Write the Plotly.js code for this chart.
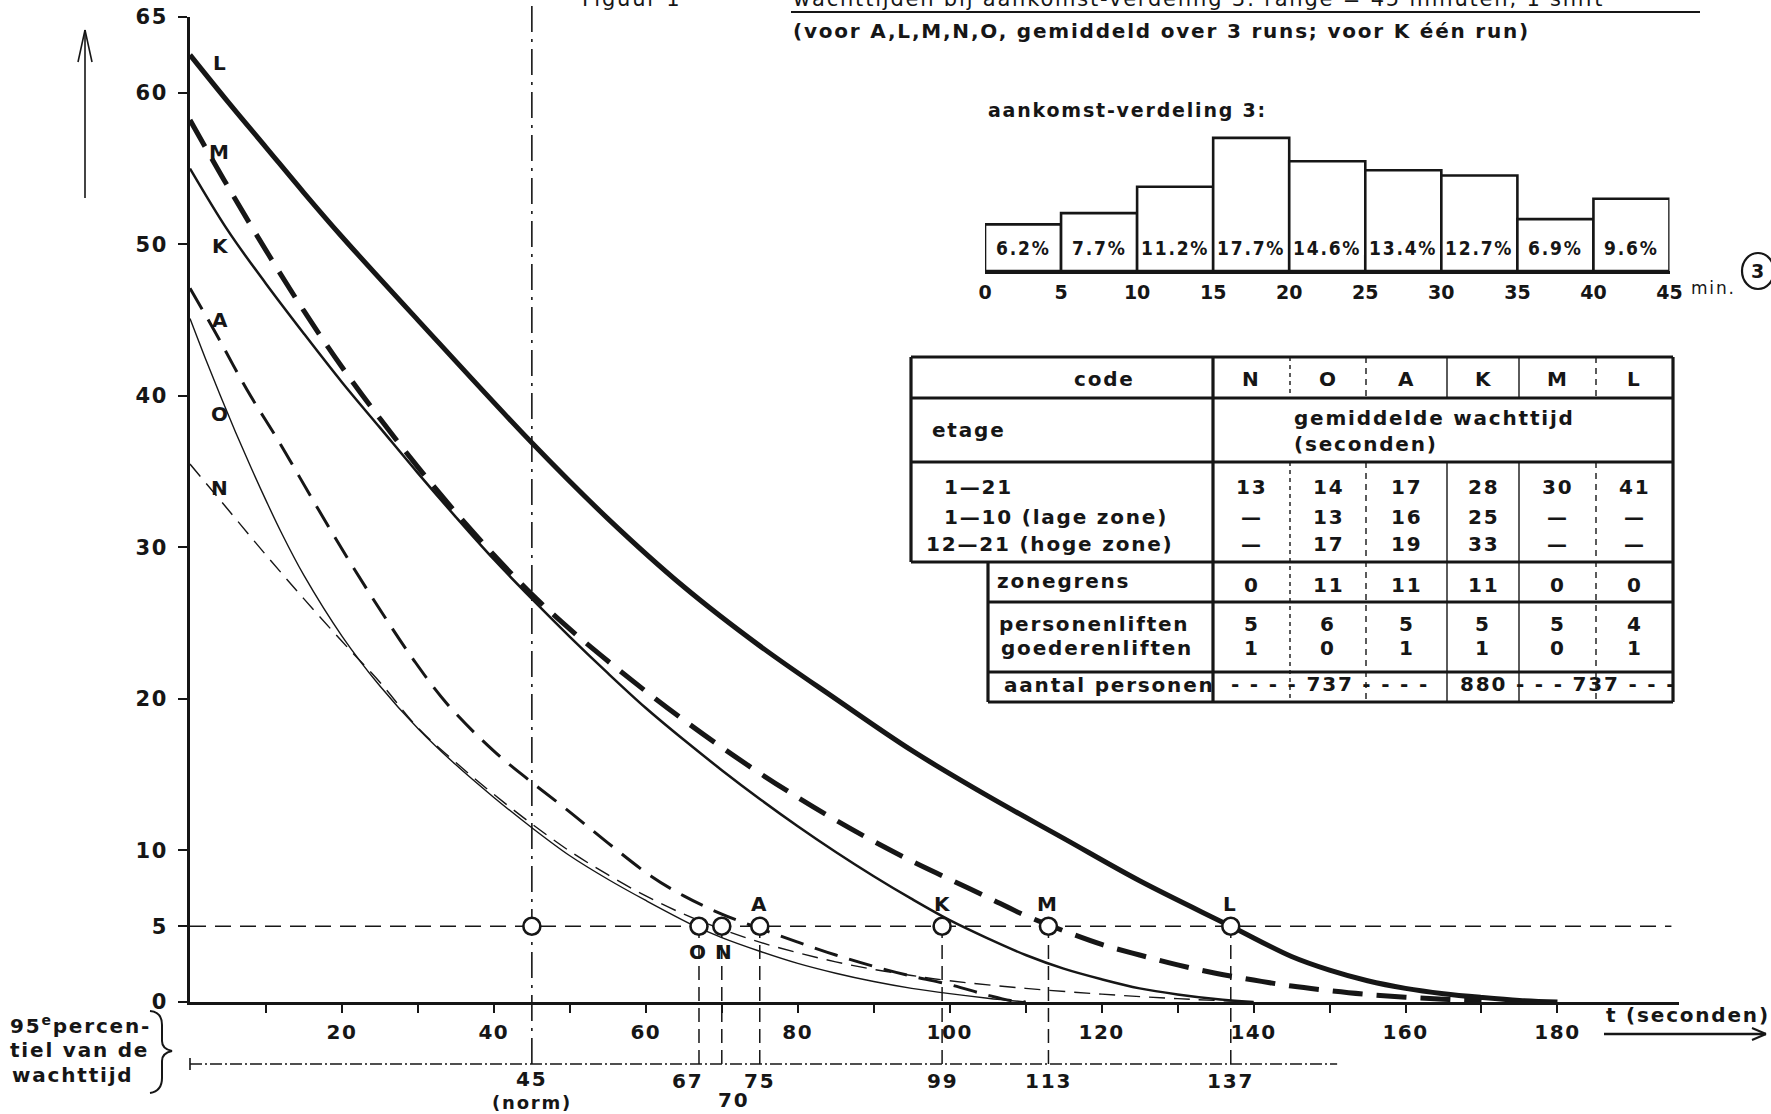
<!DOCTYPE html>
<html><head><meta charset="utf-8">
<script src="https://cdn.plot.ly/plotly-3.0.1.min.js"></script>
<style>
html,body{margin:0;padding:0;background:#fff;}
#chart{width:1771px;height:1114px;}
.annotation-text{letter-spacing:1.8px;}
.xtick text,.ytick text{letter-spacing:1.5px;}
</style></head><body><div id="chart"></div>
<script>
// ---------------- data ----------------
// waiting-time exceedance curves (t in seconds, % of persons still waiting)
const tL = [0, 5, 10, 15, 20, 30, 45, 55, 65, 75, 85, 95, 105, 115, 125, 137, 145, 150, 155, 160, 165, 170, 175, 180];
const wL = [62.5, 59.4, 56.4, 53.4, 50.5, 45.0, 36.9, 31.9, 27.4, 23.5, 20.0, 16.6, 13.6, 10.8, 8.0, 5.0, 3.0, 2.1, 1.4, 0.9, 0.55, 0.3, 0.1, 0];
const tM = [0, 5, 10, 15, 20, 25, 30, 35, 40, 45, 50, 55, 60, 65, 70, 75, 80, 85, 90, 95, 100, 105, 110, 115, 120, 125, 130, 135, 140, 145, 150, 155, 160, 165, 170];
const wM = [58.2, 53.8, 49.6, 45.6, 41.9, 38.5, 35.3, 32.3, 29.5, 26.9, 24.6, 22.5, 20.5, 18.6, 16.8, 15.1, 13.5, 12.0, 10.6, 9.3, 8.1, 6.9, 5.7, 4.7, 3.8, 3.1, 2.45, 1.9, 1.45, 1.05, 0.75, 0.5, 0.32, 0.18, 0.08];
const tK = [0, 5, 10, 15, 20, 25, 30, 35, 40, 45, 50, 55, 60, 65, 70, 75, 80, 85, 90, 95, 100, 105, 110, 115, 120, 125, 130, 135, 140];
const wK = [55.0, 50.9, 47.4, 44.1, 40.9, 37.9, 34.9, 32.0, 29.2, 26.6, 24.1, 21.7, 19.4, 17.3, 15.3, 13.4, 11.6, 9.9, 8.3, 6.8, 5.4, 4.2, 3.1, 2.2, 1.5, 0.9, 0.5, 0.2, 0];
const tA = [0, 3.1, 7.5, 11.8, 16.2, 20.6, 25, 29.4, 33.8, 39.9, 44.6, 49.6, 55, 60.7, 65, 70, 75, 80, 85, 90, 95, 100, 105, 108, 110];
const wA = [47.1, 44.4, 40.4, 36.9, 33.1, 29.4, 25.9, 22.6, 19.7, 16.6, 14.65, 12.7, 10.5, 8.3, 7.0, 5.8, 4.85, 3.95, 3.1, 2.35, 1.7, 1.15, 0.45, 0.1, 0];
const tO = [0, 2, 4, 6, 8, 10, 12, 15, 20, 25, 30, 35, 40, 45, 50, 55, 60, 66.5, 70, 75, 80, 85, 90, 95, 100, 105, 110];
const wO = [45.1, 42.5, 40.0, 37.6, 35.3, 33.1, 31.0, 28.15, 24.15, 20.85, 18.05, 15.65, 13.5, 11.5, 9.65, 8.1, 6.7, 5.0, 4.25, 3.35, 2.55, 1.9, 1.35, 0.9, 0.55, 0.25, 0];
const tN = [0, 5, 10, 15, 20, 25, 30, 35, 40, 45, 50, 55, 60, 65, 70, 75, 80, 85, 90, 95, 100, 110, 120, 130, 140];
const wN = [35.5, 32.5, 29.5, 26.6, 23.8, 21.1, 18.1, 15.8, 13.7, 11.75, 9.95, 8.4, 7.0, 5.8, 4.8, 3.95, 3.25, 2.65, 2.15, 1.75, 1.4, 0.9, 0.52, 0.22, 0];

// 95th percentile of waiting time per code
const pctCodes  = ['O', 'N', 'A', 'K', 'M', 'L'];
const pctValues = [67, 70, 75, 99, 113, 137];
const normSeconds = 45;
const level95 = 5;

// arrival distribution 3
const arrivalBinStart = [0, 5, 10, 15, 20, 25, 30, 35, 40];
const arrivalPct = [6.2, 7.7, 11.2, 17.7, 14.6, 13.4, 12.7, 6.9, 9.6];
const arrivalTicks = [0, 5, 10, 15, 20, 25, 30, 35, 40, 45];

// axis ticks
const xMajorTicks = [20, 40, 60, 80, 100, 120, 140, 160, 180];
const xMinorTicks = [10, 30, 50, 70, 90, 110, 130, 150, 170];
const yTickVals = [0, 5, 10, 20, 30, 40, 50, 60, 65];

// table
const tableCodes = ['N', 'O', 'A', 'K', 'M', 'L'];
const wait1to21 = [13, 14, 17, 28, 30, 41];
const waitLow = [null, 13, 16, 25, null, null];
const waitHigh = [null, 17, 19, 33, null, null];
const zoneBoundary = [0, 11, 11, 11, 0, 0];
const passengerLifts = [5, 6, 5, 5, 5, 4];
const goodsLifts = [1, 0, 1, 1, 0, 1];
const personsCount = [737, 737, 737, 880, 737, 737];

// ---------------- helpers ----------------
const ML = 190, MT = 17, PW = 1489, PH = 985;
const X_MAX = 196, Y_MAX = 65;
const px = X => (X - ML) / PW;
const py = Y => (MT + PH - Y) / PH;
const INK = '#161616';
const FONT = 'DejaVu Sans, Liberation Sans, sans-serif';
const COND = 'DejaVu Sans Condensed, Liberation Sans Narrow, DejaVu Sans, sans-serif';

const shapes = [];
const ann = [];
function seg(X0, Y0, X1, Y1, w, dash, layer) {
  shapes.push({type: 'line', xref: 'paper', yref: 'paper', x0: px(X0), y0: py(Y0), x1: px(X1), y1: py(Y1),
    line: {color: INK, width: w, dash: dash || 'solid'}, layer: layer || 'above'});
}
function txt(X, Y, s, opt) {
  opt = opt || {};
  ann.push({xref: 'paper', yref: 'paper', x: px(X), y: py(Y), text: s, showarrow: false,
    xanchor: opt.xa || 'left', yanchor: opt.ya || 'middle',
    font: {family: opt.family || FONT, size: opt.size || 20, color: INK, weight: opt.weight || 'normal'}});
}

// ---------------- traces ----------------
const curveStyle = {
  L: {t: tL, w: wL, width: 5, dash: 'solid'},
  M: {t: tM, w: wM, width: 5, dash: '30px,14px'},
  K: {t: tK, w: wK, width: 2.5, dash: 'solid'},
  A: {t: tA, w: wA, width: 3, dash: '24px,12px'},
  O: {t: tO, w: wO, width: 1.4, dash: 'solid'},
  N: {t: tN, w: wN, width: 1.4, dash: '16px,9px'}
};
const traces = [];
['N', 'O', 'A', 'K', 'M', 'L'].forEach(c => {
  const s = curveStyle[c];
  traces.push({type: 'scatter', mode: 'lines', x: s.t, y: s.w, name: c,
    line: {color: INK, width: s.width, dash: s.dash, shape: 'spline', smoothing: 1},
    hoverinfo: 'skip', showlegend: false});
});
// circles at the 95th percentile crossings and at the norm
traces.push({type: 'scatter', mode: 'markers', x: [normSeconds].concat(pctValues),
  y: [normSeconds].concat(pctValues).map(() => level95),
  marker: {symbol: 'circle', size: 17, color: '#fff', line: {color: INK, width: 2.6}},
  showlegend: false, hoverinfo: 'skip'});

// histogram
traces.push({type: 'bar', x: arrivalBinStart.map(b => b + 2.5), y: arrivalPct, width: 5,
  xaxis: 'x2', yaxis: 'y2', marker: {color: '#fff', line: {color: INK, width: 2.6}},
  showlegend: false, hoverinfo: 'skip'});
arrivalBinStart.forEach((b, i) => {
  ann.push({xref: 'x2', yref: 'y2', x: b + 2.5, y: 3, text: arrivalPct[i].toFixed(1) + '%',
    showarrow: false, yanchor: 'middle', font: {family: COND, size: 19, color: INK, weight: 'bold'}});
});

// ---------------- reference lines ----------------
shapes.push({type: 'line', xref: 'x', yref: 'y', x0: 0, x1: 195, y0: level95, y1: level95,
  line: {color: INK, width: 1.6, dash: '16px,9px'}, layer: 'below'});
shapes.push({type: 'line', xref: 'x', yref: 'paper', x0: normSeconds, x1: normSeconds, y0: py(1064), y1: py(0),
  line: {color: INK, width: 1.6, dash: '26px,7px,3px,7px'}, layer: 'below'});
pctValues.forEach(v => {
  shapes.push({type: 'line', xref: 'x', yref: 'paper', x0: v, x1: v, y0: py(1064), y1: level95 / Y_MAX,
    line: {color: INK, width: 1.5, dash: '14px,7px'}, layer: 'below'});
});
shapes.push({type: 'line', xref: 'x', yref: 'paper', x0: 0, x1: 151, y0: py(1064), y1: py(1064),
  line: {color: INK, width: 1.6, dash: '12px,3px,2px,3px'}});
seg(ML, 1058, ML, 1070, 1.6);
pctValues.forEach(v => {
  ann.push({xref: 'x', yref: 'paper', x: v, y: py(v === 70 ? 1100 : 1081), text: String(v), showarrow: false,
    yanchor: 'middle',
    xanchor: v === 67 ? 'right' : (v === 70 ? 'left' : 'center'), xshift: v === 67 ? 6 : (v === 70 ? -6 : 0),
    font: {family: FONT, size: 20, color: INK, weight: 'bold'}});
});
ann.push({xref: 'x', yref: 'paper', x: normSeconds, y: py(1079), text: String(normSeconds), showarrow: false,
  yanchor: 'middle', font: {family: FONT, size: 20, color: INK, weight: 'bold'}});
ann.push({xref: 'x', yref: 'paper', x: normSeconds, y: py(1102), text: '(norm)', showarrow: false,
  yanchor: 'middle', font: {family: FONT, size: 18, color: INK, weight: 'bold'}});

// curve letters at circles
pctCodes.forEach((c, i) => {
  const below = (c === 'O' || c === 'N');
  ann.push({xref: 'x', yref: 'y', x: pctValues[i], y: level95, text: c, showarrow: false,
    yshift: below ? -26 : 22, xshift: c === 'N' ? 3 : 0,
    font: {family: FONT, size: 20, color: INK, weight: 'bold'}});
});
// curve letters at start
const startShift = {L: -8, M: -32, K: -77, A: -32, O: -95, N: -24};
['L', 'M', 'K', 'A', 'O', 'N'].forEach(c => {
  ann.push({xref: 'x', yref: 'y', x: 0, y: curveStyle[c].w[0], text: c, showarrow: false,
    xshift: 30, yshift: startShift[c], font: {family: FONT, size: 20, color: INK, weight: 'bold'}});
});

// ---------------- axis decorations ----------------
seg(85, 198, 85, 30, 1.6);
seg(85, 30, 78, 62, 1.6);
seg(85, 30, 92, 62, 1.6);
txt(1604, 1015, 't (seconden)', {size: 20, weight: 'bold'});
seg(1604, 1034, 1766, 1034, 2.5);
seg(1766, 1034, 1752, 1028, 2);
seg(1766, 1034, 1752, 1040, 2);
txt(8, 1025, '95<sup>e</sup>percen-', {size: 20, weight: 'bold'});
txt(8, 1050, 'tiel van de', {size: 20, weight: 'bold'});
txt(10, 1075, 'wachttijd', {size: 20, weight: 'bold'});
const P = (X, Y) => px(X) + ',' + py(Y);
shapes.push({type: 'path', xref: 'paper', yref: 'paper', line: {color: INK, width: 2},
  path: 'M' + P(150, 1011) + ' Q' + P(162, 1012) + ' ' + P(162, 1025) + ' L' + P(162, 1041) +
        ' Q' + P(162, 1049) + ' ' + P(172, 1051) + ' Q' + P(162, 1053) + ' ' + P(162, 1061) +
        ' L' + P(162, 1078) + ' Q' + P(162, 1091) + ' ' + P(150, 1093)});

// titles
txt(580, 13, 'Figuur 1', {ya: 'bottom', size: 21});
txt(791, 13, 'wachttijden bij aankomst-verdeling 3: range = 45 minuten, 1 shift', {ya: 'bottom', size: 21});
seg(791, 12, 1700, 12, 2);
txt(791, 31, '(voor A,L,M,N,O, gemiddeld over 3 runs; voor K één run)', {size: 20, weight: 'bold'});
txt(986, 110, 'aankomst-verdeling 3:', {size: 19, weight: 'bold'});
txt(1689, 288, 'min.', {size: 17});
shapes.push({type: 'circle', xref: 'paper', yref: 'paper', x0: px(1742), x1: px(1774), y0: py(289), y1: py(253),
  line: {color: INK, width: 2.2}});
txt(1758, 271, '3', {xa: 'center', size: 19, weight: 'bold'});

// ---------------- table ----------------
const colX = [1213, 1290, 1366, 1447, 1519, 1596, 1673];
const colDash = ['4px,4px', '6px,5px', 'solid', 'solid', '6px,5px'];
const TW = 3.2;
const TF = {size: 20, weight: 'bold'};
seg(911, 357, 1673, 357, TW); seg(911, 398, 1673, 398, TW); seg(911, 462, 1673, 462, TW);
seg(911, 562, 1673, 562, TW); seg(988, 602, 1673, 602, TW); seg(988, 672, 1673, 672, TW);
seg(988, 702, 1673, 702, TW);
seg(911, 357, 911, 562, TW); seg(988, 562, 988, 702, TW); seg(1673, 357, 1673, 702, TW);
seg(1213, 357, 1213, 702, TW);
for (let k = 1; k <= 5; k++) {
  seg(colX[k], 357, colX[k], 398, 1.4, colDash[k - 1]);
  seg(colX[k], 462, colX[k], 702, 1.4, colDash[k - 1]);
}
const cc = i => (colX[i] + colX[i + 1]) / 2;
const dashTxt = v => (v === null ? '—' : String(v));
const C = Object.assign({xa: 'center'}, TF);
txt(1104, 379, 'code', C);
txt(930, 430, 'etage', TF);
txt(1292, 418, 'gemiddelde wachttijd', TF);
txt(1292, 444, '(seconden)', TF);
txt(942, 487, '1—21', TF);
txt(942, 517, '1—10 (lage zone)', TF);
txt(924, 544, '12—21 (hoge zone)', TF);
txt(995, 581, 'zonegrens', TF);
txt(997, 624, 'personenliften', TF);
txt(999, 648, 'goederenliften', TF);
txt(1002, 685, 'aantal personen', TF);
tableCodes.forEach((c, i) => {
  txt(cc(i), 379, c, C);
  txt(cc(i), 487, dashTxt(wait1to21[i]), C);
  txt(cc(i), 517, dashTxt(waitLow[i]), C);
  txt(cc(i), 544, dashTxt(waitHigh[i]), C);
  txt(cc(i), 585, dashTxt(zoneBoundary[i]), C);
  txt(cc(i), 624, dashTxt(passengerLifts[i]), C);
  txt(cc(i), 648, dashTxt(goodsLifts[i]), C);
});
for (let i = 0; i < personsCount.length;) {
  let j = i;
  while (j + 1 < personsCount.length && personsCount[j + 1] === personsCount[i]) j++;
  const span = j - i + 1;
  const pad = span > 1 ? '- '.repeat(span + 1) : '';
  const s = span > 1 ? pad + personsCount[i] + ' ' + pad.trim() : String(personsCount[i]);
  txt((colX[i] + colX[j + 1]) / 2, 684, s, C);
  i = j + 1;
}

// ---------------- layout ----------------
const layout = {
  width: 1771, height: 1114,
  margin: {l: ML, r: 1771 - ML - PW, t: MT, b: 1114 - MT - PH},
  paper_bgcolor: '#fff', plot_bgcolor: 'rgba(0,0,0,0)',
  font: {family: FONT, color: INK},
  showlegend: false,
  xaxis: {range: [0, X_MAX], showgrid: false, zeroline: false, showline: true, linewidth: 3, linecolor: INK,
    ticks: 'outside', ticklen: 8, tickwidth: 2, tickcolor: INK,
    tickmode: 'array', tickvals: xMajorTicks, ticktext: xMajorTicks.map(String),
    minor: {tickmode: 'array', tickvals: xMinorTicks, ticks: 'outside', ticklen: 8, tickwidth: 2, tickcolor: INK, showgrid: false},
    tickfont: {family: FONT, size: 20, color: INK, weight: 'bold'}, ticklabelstandoff: 2},
  yaxis: {range: [0, Y_MAX], showgrid: false, zeroline: false, showline: true, linewidth: 3, linecolor: INK,
    ticks: 'outside', ticklen: 9, tickwidth: 2, tickcolor: INK,
    tickmode: 'array', tickvals: yTickVals, ticktext: yTickVals.map(String),
    tickfont: {family: FONT, size: 21, color: INK, weight: 'bold'}, ticklabelstandoff: 6},
  xaxis2: {domain: [px(985), px(1669.5)], anchor: 'y2', range: [0, 45], showgrid: false, zeroline: false,
    showline: true, linewidth: 3, linecolor: INK, ticks: '',
    tickmode: 'array', tickvals: arrivalTicks, ticktext: arrivalTicks.map(String),
    tickfont: {family: FONT, size: 19, color: INK, weight: 'bold'}, ticklabelstandoff: 2},
  yaxis2: {domain: [py(271), py(120.6)], anchor: 'x2', range: [0, 20], visible: false},
  bargap: 0,
  shapes: shapes,
  annotations: ann
};
Plotly.newPlot('chart', traces, layout, {displayModeBar: false, staticPlot: true});
</script></body></html>
